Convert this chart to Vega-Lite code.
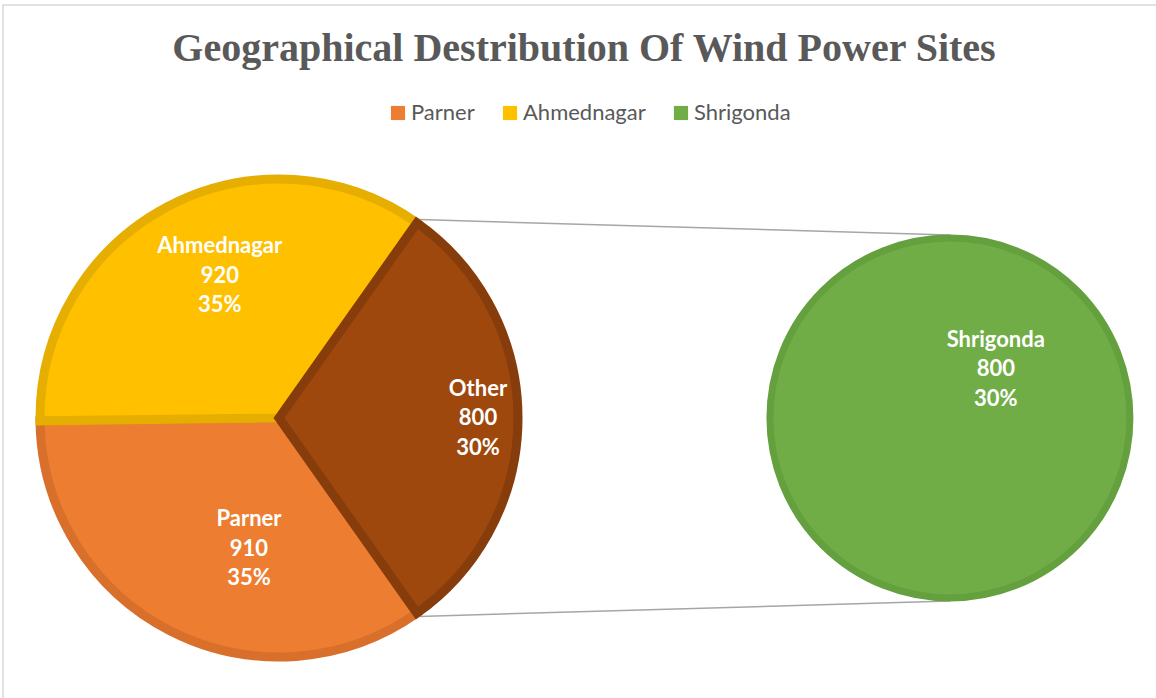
{
  "$schema": "https://vega.github.io/schema/vega-lite/v6.json",
  "width": 1160,
  "height": 700,
  "autosize": {"type": "none"},
  "padding": {"left": 3, "top": 5, "right": 0, "bottom": 0},
  "background": "white",
  "config": {"view": {"stroke": "#D9D9D9", "strokeWidth": 1.5}},
  "title": {
    "text": "Geographical Destribution Of Wind Power Sites",
    "font": "Liberation Serif",
    "fontSize": 40,
    "fontWeight": "bold",
    "color": "#595959",
    "anchor": "middle",
    "frame": "group",
    "offset": 0,
    "dy": 64,
    "dx": 1
  },
  "data": {
    "values": [
      {"site": "Parner", "value": 910, "pie": "main"},
      {"site": "Ahmednagar", "value": 920, "pie": "main"},
      {"site": "Other", "value": 800, "pie": "main"},
      {"site": "Shrigonda", "value": 800, "pie": "secondary"}
    ]
  },
  "transform": [
    {"calculate": "datum.pie === 'main' ? datum.value : 0", "as": "mainValue"},
    {"joinaggregate": [{"op": "sum", "field": "mainValue", "as": "total"}]},
    {"calculate": "[datum.site, format(datum.value, 'd'), format(datum.value / datum.total, '.0%')]", "as": "label"}
  ],
  "resolve": {"scale": {"theta": "independent"}},
  "layer": [
    {
      "transform": [{"filter": "datum.pie === 'secondary'"}],
      "mark": {"type": "rule", "color": "#A6A6A6", "strokeWidth": 1.5},
      "encoding": {
        "x": {"datum": 0.5771, "type": "quantitative", "axis": null, "scale": {"domain": [-1, 1], "range": [33, 519], "nice": false, "zero": false}},
        "y": {"datum": 0.8166, "type": "quantitative", "axis": null, "scale": {"domain": [-1, 1], "range": [656, 170], "nice": false, "zero": false}},
        "x2": {"datum": 2.761},
        "y2": {"datum": 0.753}
      }
    },
    {
      "transform": [{"filter": "datum.pie === 'secondary'"}],
      "mark": {"type": "rule", "color": "#A6A6A6", "strokeWidth": 1.5},
      "encoding": {
        "x": {"datum": 0.5771, "type": "quantitative", "axis": null},
        "y": {"datum": -0.8166, "type": "quantitative", "axis": null},
        "x2": {"datum": 2.761},
        "y2": {"datum": -0.753}
      }
    },
    {
      "transform": [{"filter": "datum.pie === 'main'"}],
      "mark": {"type": "arc", "outerRadius": 239, "strokeWidth": 9},
      "encoding": {
        "x": {"datum": 0, "type": "quantitative", "axis": null},
        "y": {"datum": 0, "type": "quantitative", "axis": null},
        "theta": {"field": "value", "type": "quantitative", "stack": "normalize", "scale": {"domain": [0, 1], "range": [4.7005, 10.9837]}},
        "order": {"field": "site", "sort": "ascending"},
        "color": {
          "field": "site",
          "type": "nominal",
          "scale": {"domain": ["Parner", "Ahmednagar", "Shrigonda", "Other"], "range": ["#ED7D31", "#FFC000", "#70AD47", "#9E480E"]},
          "legend": {
            "orient": "none",
            "legendX": 384,
            "legendY": 97,
            "direction": "horizontal",
            "values": ["Parner", "Ahmednagar", "Shrigonda"],
            "title": null,
            "symbolType": "square",
            "symbolSize": 200,
            "symbolStrokeWidth": 0,
            "labelFont": "Lato",
            "labelFontSize": 22,
            "labelColor": "#595959",
            "labelOffset": 2,
            "columnPadding": 24
          }
        },
        "stroke": {
          "field": "site",
          "type": "nominal",
          "scale": {"domain": ["Parner", "Ahmednagar", "Shrigonda", "Other"], "range": ["#D86F2B", "#E6AE00", "#64A03D", "#863C0B"]},
          "legend": null
        }
      }
    },
    {
      "transform": [{"filter": "datum.pie === 'secondary'"}],
      "mark": {"type": "arc", "outerRadius": 180, "strokeWidth": 7},
      "encoding": {
        "x": {"datum": 2.761, "type": "quantitative", "axis": null},
        "y": {"datum": 0, "type": "quantitative", "axis": null},
        "theta": {"field": "value", "type": "quantitative", "stack": true},
        "color": {"field": "site", "type": "nominal"},
        "stroke": {"field": "site", "type": "nominal"}
      }
    },
    {
      "transform": [
        {"filter": "datum.pie === 'main'"},
        {"stack": "value", "groupby": ["pie"], "offset": "normalize", "sort": [{"field": "site", "order": "ascending"}], "as": ["s0", "s1"]},
        {"calculate": "(datum.s0 + datum.s1) / 2", "as": "mid"}
      ],
      "layer": [
        {
          "transform": [{"filter": "datum.site === 'Ahmednagar'"}],
          "mark": {"type": "text", "radius": 154, "thetaOffset": 0.089, "dy": -29.5, "font": "Lato", "fontSize": 22, "fontWeight": "bold", "color": "white", "lineHeight": 29.5, "align": "center", "baseline": "middle"},
          "encoding": {
            "x": {"datum": 0, "type": "quantitative", "axis": null},
            "y": {"datum": 0, "type": "quantitative", "axis": null},
            "theta": {"field": "mid", "type": "quantitative", "scale": {"domain": [0, 1], "range": [4.7005, 10.9837]}},
            "text": {"field": "label"}
          }
        },
        {
          "transform": [{"filter": "datum.site === 'Other'"}],
          "mark": {"type": "text", "radius": 199, "dy": -29.5, "font": "Lato", "fontSize": 22, "fontWeight": "bold", "color": "white", "lineHeight": 29.5, "align": "center", "baseline": "middle"},
          "encoding": {
            "x": {"datum": 0, "type": "quantitative", "axis": null},
            "y": {"datum": 0, "type": "quantitative", "axis": null},
            "theta": {"field": "mid", "type": "quantitative"},
            "text": {"field": "label"}
          }
        },
        {
          "transform": [{"filter": "datum.site === 'Parner'"}],
          "mark": {"type": "text", "radius": 134, "thetaOffset": -0.246, "dy": -29.5, "font": "Lato", "fontSize": 22, "fontWeight": "bold", "color": "white", "lineHeight": 29.5, "align": "center", "baseline": "middle"},
          "encoding": {
            "x": {"datum": 0, "type": "quantitative", "axis": null},
            "y": {"datum": 0, "type": "quantitative", "axis": null},
            "theta": {"field": "mid", "type": "quantitative"},
            "text": {"field": "label"}
          }
        }
      ]
    },
    {
      "transform": [{"filter": "datum.pie === 'secondary'"}],
      "mark": {"type": "text", "radius": 67, "theta": 0.754, "dy": -29.5, "font": "Lato", "fontSize": 22, "fontWeight": "bold", "color": "white", "lineHeight": 29.5, "align": "center", "baseline": "middle"},
      "encoding": {
        "x": {"datum": 2.761, "type": "quantitative", "axis": null},
        "y": {"datum": 0, "type": "quantitative", "axis": null},
        "text": {"field": "label"}
      }
    }
  ]
}
